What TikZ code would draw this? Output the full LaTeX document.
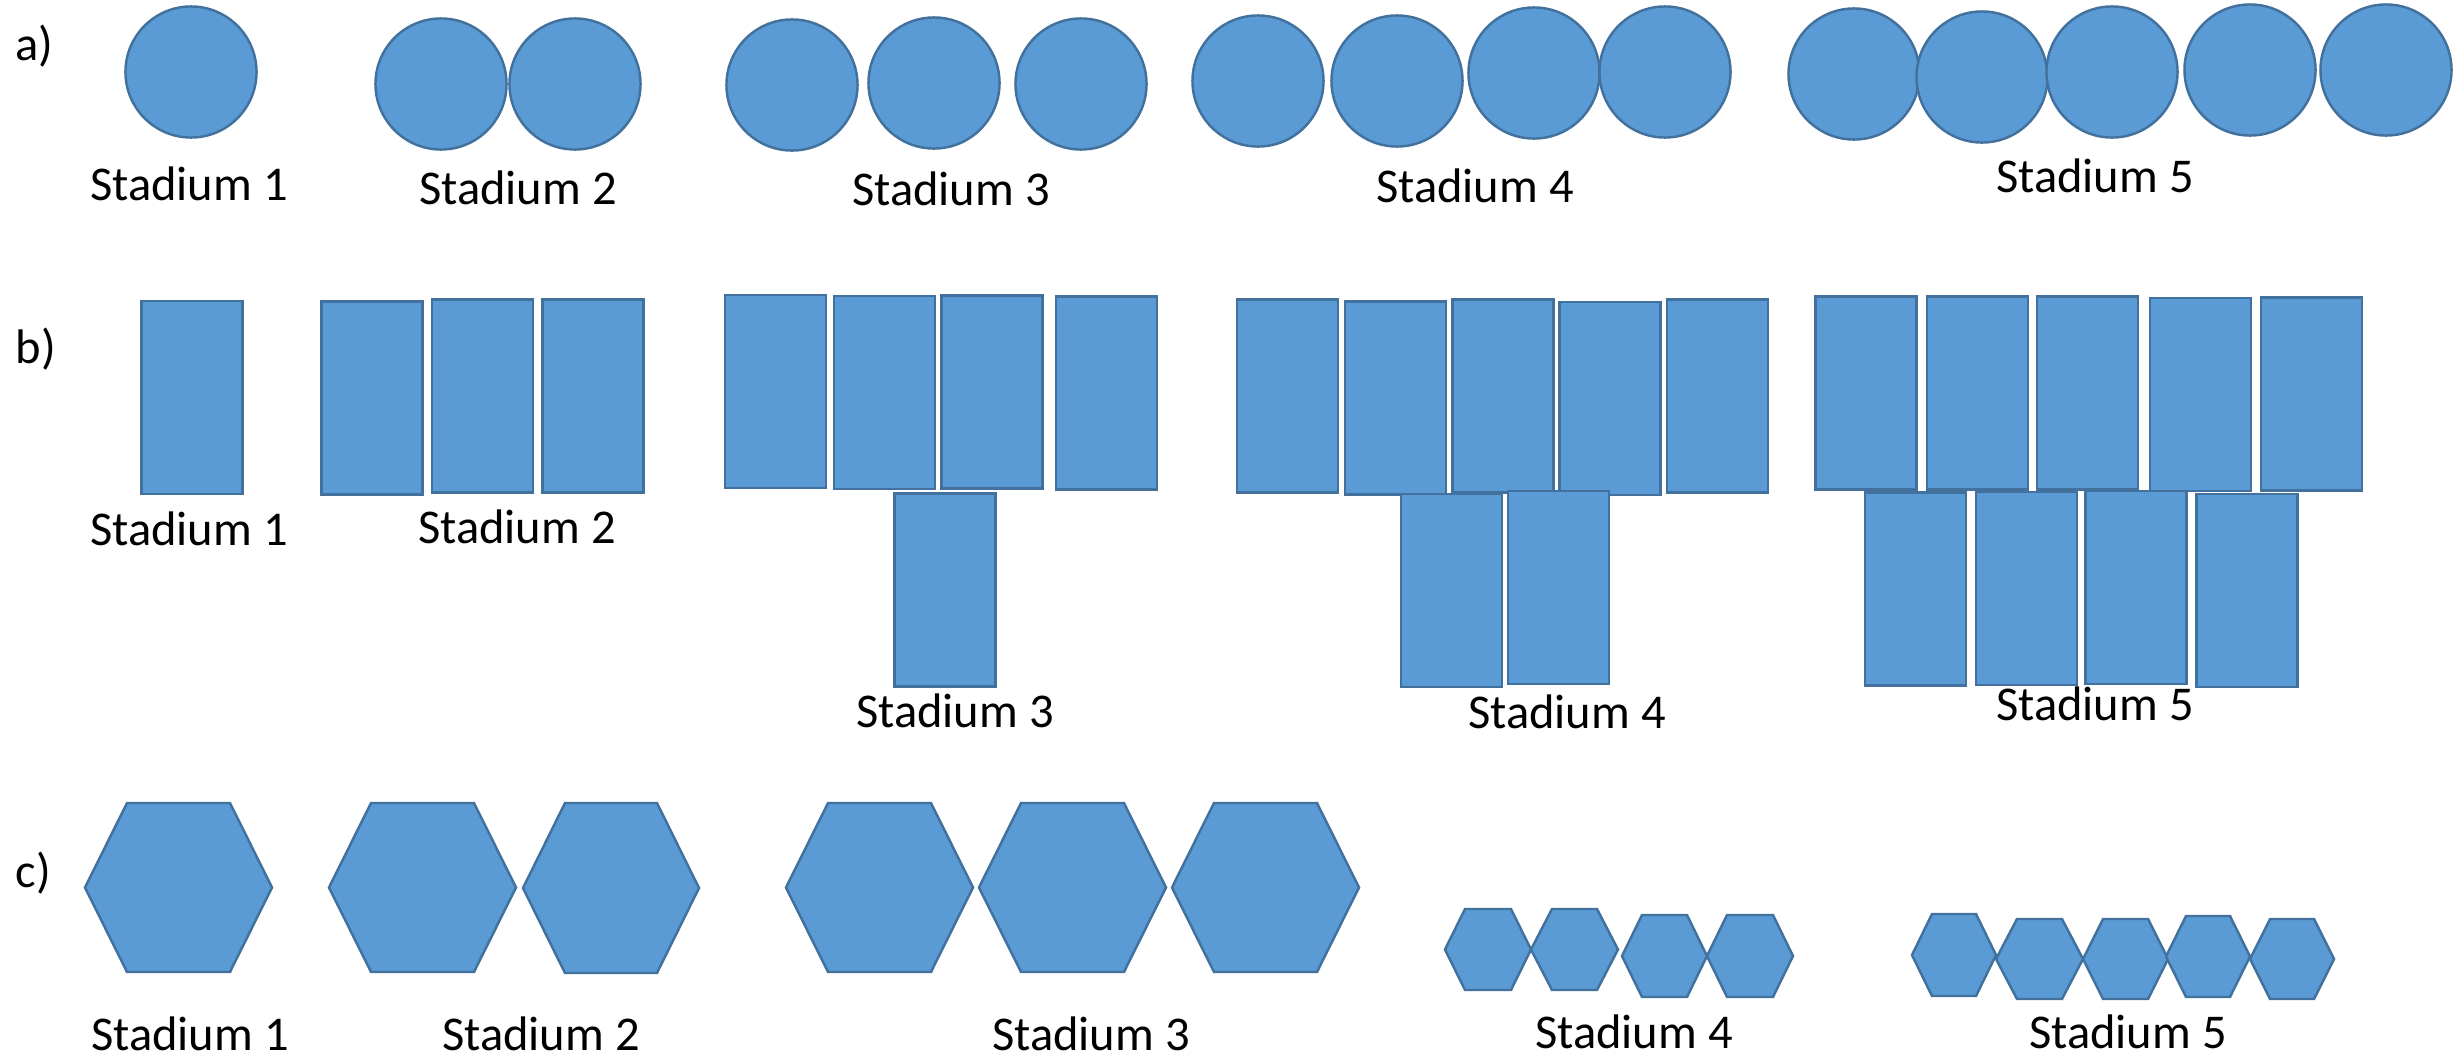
\documentclass[tikz,border=0pt]{standalone}
\usepackage{fontspec}
\setmainfont{Carlito}
\definecolor{shapefill}{HTML}{5B9BD5}
\definecolor{shapeline}{HTML}{41719C}
\newcommand{\myhex}[6]{% name, xl, xr, yt, yb, inset
  \path[hexa] (#2,{(#4+#5)/2}) -- (#2+#6,#4) -- (#3-#6,#4) -- (#3,{(#4+#5)/2})
    -- (#3-#6,#5) -- (#2+#6,#5) -- cycle;
  \coordinate (#1) at ({(#2+#3)/2},{(#4+#5)/2});}
\begin{document}
\begin{tikzpicture}[x=0.01cm,y=-0.01cm,
  circ/.style={circle,draw=shapeline,fill=shapefill,line width=0.7pt,minimum size=1.31cm,inner sep=0pt},
  rbox/.style={rectangle,draw=shapeline,fill=shapefill,line width=0.7pt,minimum width=1.01cm,minimum height=1.93cm,inner sep=0pt},
  hexa/.style={draw=shapeline,fill=shapefill,line width=0.7pt,line join=miter},
  lbl/.style={anchor=base,inner sep=0pt,font=\fontsize{13.8}{16}\selectfont},
  tag/.style={anchor=base west,inner sep=0pt,font=\fontsize{13.8}{16}\selectfont}]
\useasboundingbox (0,0) rectangle (2453,1057);

% ---------- row a ----------
\node[tag] (ta) at (15,60) {a)};
\node[circ] (a11) at (191,72) {};
\node[circ] (a21) at (441,84) {};
\node[circ] (a22) at (575,84) {};
\node[circ] (a31) at (792,85) {};
\node[circ] (a32) at (934,83) {};
\node[circ] (a33) at (1081,84) {};
\node[circ] (a41) at (1258,81) {};
\node[circ] (a42) at (1397,81) {};
\node[circ] (a43) at (1534,73) {};
\node[circ] (a44) at (1665,72) {};
\node[circ] (a51) at (1854,74) {};
\node[circ] (a52) at (1982,77) {};
\node[circ] (a53) at (2112,72) {};
\node[circ] (a54) at (2250,70) {};
\node[circ] (a55) at (2386,70) {};
\node[lbl] (la1) at (189,200) {Stadium 1};
\node[lbl] (la2) at (518,204) {Stadium 2};
\node[lbl] (la3) at (951,205) {Stadium 3};
\node[lbl] (la4) at (1475,202) {Stadium 4};
\node[lbl] (la5) at (2095,192) {Stadium 5};

% ---------- row b ----------
\node[tag] (tb) at (15,363) {b)};
\node[rbox] (b11) at (192,397.5) {};
\node[rbox] (b21) at (372,398) {};
\node[rbox] (b22) at (482.5,396) {};
\node[rbox] (b23) at (593,396) {};
\node[rbox] (b31) at (775.5,391.5) {};
\node[rbox] (b32) at (884.5,392.5) {};
\node[rbox] (b33) at (992,392) {};
\node[rbox] (b34) at (1106.5,393) {};
\node[rbox] (b35) at (945,590) {};
\node[rbox] (b41) at (1287.5,396) {};
\node[rbox] (b42) at (1395.5,398) {};
\node[rbox] (b43) at (1503,396) {};
\node[rbox] (b44) at (1610,398.5) {};
\node[rbox] (b45) at (1717.5,396) {};
\node[rbox] (b46) at (1451.5,590.5) {};
\node[rbox] (b47) at (1558.5,587.5) {};
\node[rbox] (b51) at (1866,393) {};
\node[rbox] (b52) at (1977.5,393) {};
\node[rbox] (b53) at (2087.5,393) {};
\node[rbox] (b54) at (2200.5,394.5) {};
\node[rbox] (b55) at (2311.5,394) {};
\node[rbox] (b56) at (1915.5,589) {};
\node[rbox] (b57) at (2026.5,588.5) {};
\node[rbox] (b58) at (2136,587.5) {};
\node[rbox] (b59) at (2247,590.5) {};
\node[lbl] (lb1) at (189,545) {Stadium 1};
\node[lbl] (lb2) at (517,543) {Stadium 2};
\node[lbl] (lb3) at (955,727) {Stadium 3};
\node[lbl] (lb4) at (1567,728) {Stadium 4};
\node[lbl] (lb5) at (2095,720) {Stadium 5};

% ---------- row c ----------
\node[tag] (tc) at (15,887) {c)};
\myhex{c11}{85}{272}{803}{972}{42}
\myhex{c21}{329}{516}{803}{972}{42}
\myhex{c22}{523}{699}{803}{973}{42}
\myhex{c31}{786}{973}{803}{972}{42}
\myhex{c32}{979}{1166}{803}{972}{42}
\myhex{c33}{1172}{1359}{803}{972}{42}
\myhex{c41}{1445}{1531}{909}{990}{20}
\myhex{c42}{1531}{1618}{909}{990}{21}
\myhex{c43}{1622}{1707}{915}{997}{20}
\myhex{c44}{1707}{1793}{915}{997}{20}
\myhex{c51}{1912}{1996}{914}{996}{20}
\myhex{c52}{1996}{2083}{919}{999}{21}
\myhex{c53}{2083}{2168}{919}{999}{20}
\myhex{c54}{2166}{2250}{916}{997}{20}
\myhex{c55}{2250}{2334}{919}{999}{20}
\node[lbl] (lc1) at (190,1050) {Stadium 1};
\node[lbl] (lc2) at (541,1050) {Stadium 2};
\node[lbl] (lc3) at (1091,1050) {Stadium 3};
\node[lbl] (lc4) at (1634,1048) {Stadium 4};
\node[lbl] (lc5) at (2128,1048) {Stadium 5};
\end{tikzpicture}
\end{document}
